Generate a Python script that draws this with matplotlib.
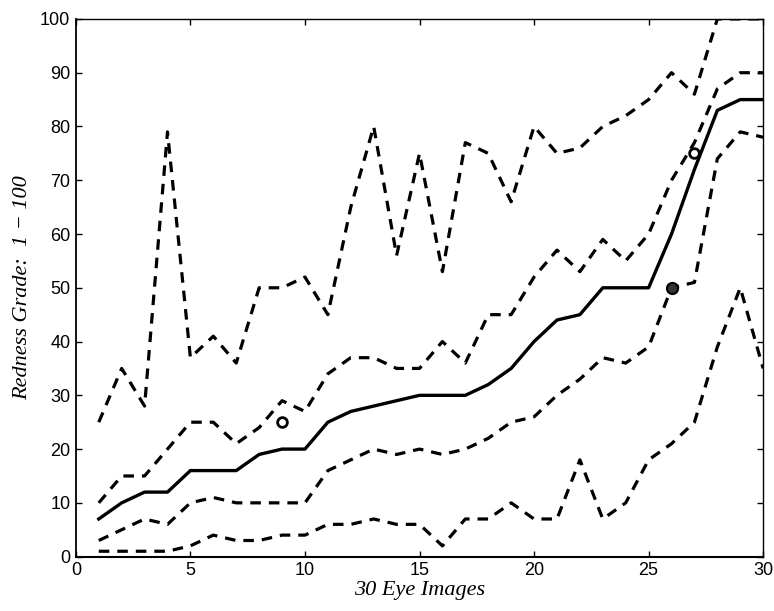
import matplotlib.pyplot as plt
from matplotlib.ticker import MultipleLocator

images = list(range(1, 31))
median = [7, 10, 12, 12, 16, 16, 16, 19, 20, 20, 25, 27, 28, 29, 30,
          30, 30, 32, 35, 40, 44, 45, 50, 50, 50, 60, 72, 83, 85, 85]
upper_max = [25, 35, 28, 79, 37, 41, 36, 50, 50, 52, 45, 65, 80, 56, 75,
             53, 77, 75, 66, 80, 75, 76, 80, 82, 85, 90, 86, 100, 100, 100]
upper_q = [10, 15, 15, 20, 25, 25, 21, 24, 29, 27, 34, 37, 37, 35, 35,
           40, 36, 45, 45, 52, 57, 53, 59, 55, 60, 70, 77, 87, 90, 90]
lower_q = [3, 5, 7, 6, 10, 11, 10, 10, 10, 10, 16, 18, 20, 19, 20,
           19, 20, 22, 25, 26, 30, 33, 37, 36, 39, 50, 51, 74, 79, 78]
lower_min = [1, 1, 1, 1, 2, 4, 3, 3, 4, 4, 6, 6, 7, 6, 6,
             2, 7, 7, 10, 7, 7, 18, 7, 10, 18, 21, 25, 39, 50, 35]

open_x = [9, 27]
open_y = [25, 75]
filled_x = [26]
filled_y = [50]

fig = plt.figure(figsize=(7.74, 6.11), dpi=100)
ax = fig.add_axes([0.098, 0.089, 0.888, 0.880])

dash = (3.3, 2.5)
for series in (upper_max, upper_q, lower_q, lower_min):
    ax.plot(images, series, color="black", lw=2.3, dashes=dash)
ax.plot(images, median, color="black", lw=2.4)

ax.plot(open_x, open_y, "o", ms=7, mfc="white", mec="black", mew=2)
ax.plot(filled_x, filled_y, "o", ms=8, mfc="#333333", mec="black", mew=1.5)

ax.set_xlim(0, 30)
ax.set_ylim(0, 100)
ax.xaxis.set_major_locator(MultipleLocator(5))
ax.yaxis.set_major_locator(MultipleLocator(10))
ax.tick_params(direction="in", top=True, right=True, length=4, width=1,
               labelsize=13, pad=4)
for lab in ax.get_xticklabels() + ax.get_yticklabels():
    lab.set_family("Liberation Sans")
for sp in ax.spines.values():
    sp.set_linewidth(1.0)
ax.spines["bottom"].set_linewidth(1.5)
ax.spines["left"].set_linewidth(1.3)

ax.set_xlabel("30 Eye Images", family="Liberation Serif", style="italic",
              fontsize=16, labelpad=1)
ax.set_ylabel("Redness Grade:  1 \u2212 100", family="Liberation Serif",
              style="italic", fontsize=16, labelpad=6)

fig.savefig("out.png", dpi=100)
